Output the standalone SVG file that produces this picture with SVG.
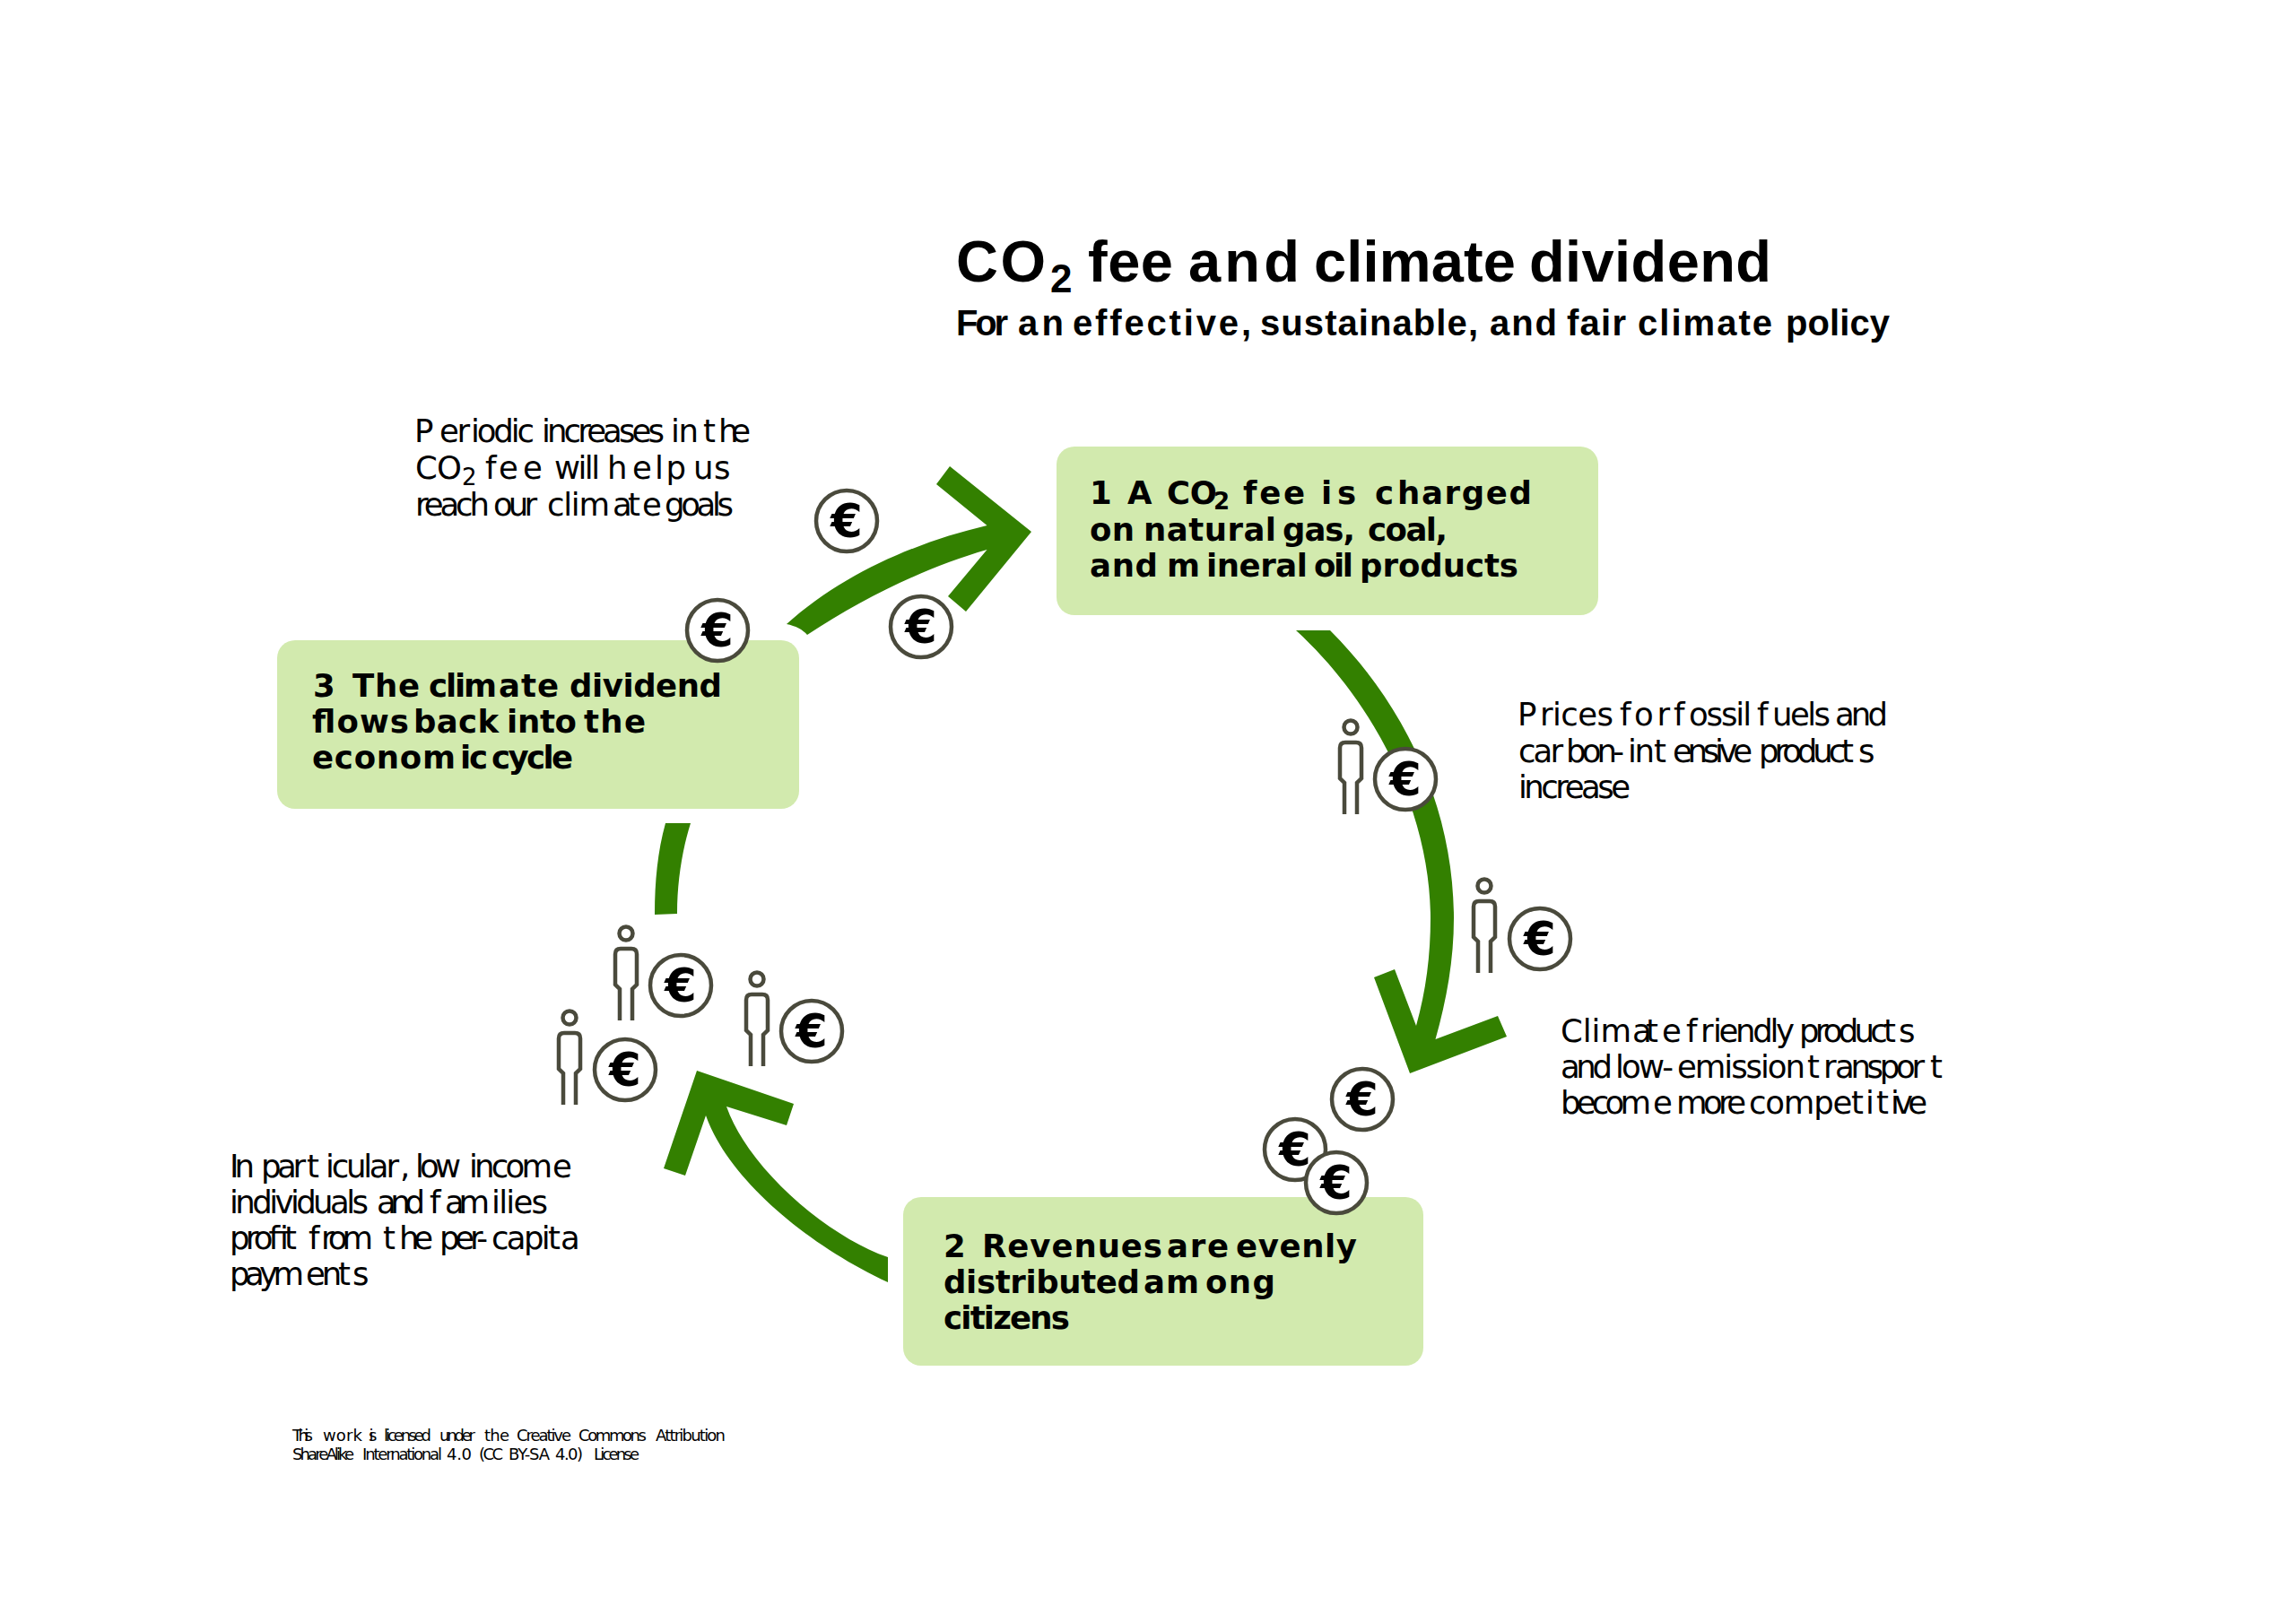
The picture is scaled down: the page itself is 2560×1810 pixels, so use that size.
<svg xmlns="http://www.w3.org/2000/svg" width="2560" height="1810" viewBox="0 0 2560 1810">
<style>
text{fill:#000;white-space:pre}
.t1{font:700 65px "Liberation Sans",Arial,sans-serif}
.t1s{font:700 44px "Liberation Sans",Arial,sans-serif}
.t2{font:700 40px "Liberation Sans",Arial,sans-serif}
.b{font:700 35.5px "DejaVu Sans",Verdana,sans-serif}
.bs{font:700 26px "DejaVu Sans",Verdana,sans-serif}
.n{font:400 35.5px "DejaVu Sans",Verdana,sans-serif}
.ns{font:400 26px "DejaVu Sans",Verdana,sans-serif}
.f{font:400 18px "DejaVu Sans",Verdana,sans-serif}
.box{fill:#d2eaae}
.arrow{fill:#338000}
.coin circle{fill:#fff;stroke:#4a4a3c;stroke-width:4.5}
.coin text{font:700 51px "DejaVu Sans",Verdana,sans-serif;text-anchor:middle}
.person{fill:none;stroke:#4a4a3c;stroke-width:4.5}
</style>
<defs>
<g id="coin" class="coin"><circle r="34"/><text y="18">€</text></g>
<g id="person" class="person"><circle r="7.5"/><path d="M-7 97V62L-12 57V23Q-12 17-6 17H6Q12 17 12 23V57L7 62V97"/></g>
</defs>
<rect width="2560" height="1810" fill="#fff"/>

<g id="connectors">
<path id="arrow-1-2" class="arrow" d="M1445 703H1483C1570 790 1621 905 1621 1024C1621 1070 1613 1115 1600.500 1159L1670 1133L1680 1156L1572 1197L1532 1090L1555 1081L1579 1144C1590 1105 1595 1065 1595 1024C1595 915 1540 790 1445 703Z"/>
<path id="arrow-2-3" class="arrow" d="M990 1402V1430C900 1388 812 1315 787 1244L764 1311L740 1303L777 1194L885 1231L877 1255L810 1234C835 1305 925 1380 990 1402Z"/>
<path id="arrow-3-1" class="arrow" d="M877 696C940 640 1020 605 1100.500 586L1044 540L1059 520L1150 593L1077 682L1057 665L1100.500 613C1035 632 965 665 900 708C895 702 887 698 877 696Z"/>
<path id="arc-3-2" class="arrow" d="M742 918H770C760 950 755 985 755 1019L730 1020C730 985 733 950 742 918Z"/>
</g>

<g id="title" transform="translate(-1 0)">
<text class="t1" y="314"><tspan x="1067" textLength="100">CO</tspan><tspan class="t1s" x="1172" y="326">2</tspan> <tspan x="1214" y="314" textLength="95">fee</tspan> <tspan x="1326" textLength="124">and</tspan> <tspan x="1466" textLength="225">climate</tspan> <tspan x="1706" textLength="270">dividend</tspan></text>
<text class="t2" y="374"><tspan x="1067" textLength="58">For</tspan> <tspan x="1136" textLength="51">an</tspan> <tspan x="1197" textLength="199">effective,</tspan> <tspan x="1406" textLength="243">sustainable,</tspan> <tspan x="1662" textLength="75">and</tspan> <tspan x="1748" textLength="66">fair</tspan> <tspan x="1827" textLength="150">climate</tspan> <tspan x="1992" textLength="116">policy</tspan></text>
</g>

<g id="node-1">
<rect class="box" x="1178" y="498" width="604" height="188" rx="20"/>
<text class="b" y="562"><tspan x="1215">1</tspan> <tspan x="1257">A</tspan> <tspan x="1301" textLength="56">CO</tspan><tspan class="bs" x="1353" y="568">2</tspan> <tspan x="1386" y="562" textLength="69">fee</tspan> <tspan x="1473">i</tspan><tspan x="1491">s</tspan> <tspan x="1533">c</tspan><tspan x="1558" textLength="150">harged</tspan></text>
<text class="b" y="603"><tspan x="1215" textLength="50">on</tspan> <tspan x="1275" textLength="148">natural</tspan> <tspan x="1430" textLength="81">gas,</tspan> <tspan x="1525" textLength="89">coal,</tspan></text>
<text class="b" y="643"><tspan x="1215" textLength="76">and</tspan> <tspan x="1301">m</tspan><tspan x="1345" textLength="113">ineral</tspan> <tspan x="1465" textLength="44">oil</tspan> <tspan x="1516" textLength="177">products</tspan></text>
</g>

<g id="node-2">
<rect class="box" x="1007" y="1335" width="580" height="188" rx="20"/>
<text class="b" y="1402"><tspan x="1052">2</tspan> <tspan x="1095" textLength="201">Revenues</tspan> <tspan x="1301" textLength="69">are</tspan> <tspan x="1378" textLength="135">evenly</tspan></text>
<text class="b" y="1442"><tspan x="1052" textLength="219">distributed</tspan> <tspan x="1275" textLength="62">am</tspan><tspan x="1344" textLength="78">ong</tspan></text>
<text class="b" y="1482"><tspan x="1052" textLength="141">citizens</tspan></text>
</g>

<g id="node-3">
<rect class="box" x="309" y="714" width="582" height="188" rx="20"/>
<text class="b" y="777"><tspan x="349">3</tspan> <tspan x="393" textLength="75">The</tspan> <tspan x="478" textLength="76">clim</tspan><tspan x="556" textLength="67">ate</tspan> <tspan x="635" textLength="170">dividend</tspan></text>
<text class="b" y="817"><tspan x="348" textLength="108">flows</tspan> <tspan x="461" textLength="95">back</tspan> <tspan x="565" textLength="78">into</tspan> <tspan x="651" textLength="69">the</tspan></text>
<text class="b" y="857"><tspan x="348" textLength="160">econom</tspan><tspan x="513" textLength="31">ic</tspan> <tspan x="548" textLength="91">cycle</tspan></text>
</g>

<g id="note-periodic">
<text class="n" y="493"><tspan x="462">P</tspan><tspan x="490" textLength="34">er</tspan><tspan x="525" textLength="71">iodic</tspan> <tspan x="604" textLength="137">increases</tspan> <tspan x="748" textLength="31">in</tspan> <tspan x="784">t</tspan><tspan x="801" textLength="36">he</tspan></text>
<text class="n" y="534"><tspan x="463" textLength="52">CO</tspan><tspan class="ns" x="515" y="541">2</tspan> <tspan x="541" y="534">f</tspan><tspan x="556">e</tspan><tspan x="583">e</tspan> <tspan x="618" textLength="51">will</tspan> <tspan x="677">h</tspan><tspan x="705">e</tspan><tspan x="730" textLength="35">lp</tspan> <tspan x="773">u</tspan><tspan x="796">s</tspan></text>
<text class="n" y="575"><tspan x="463" textLength="83">reach</tspan> <tspan x="550" textLength="49">our</tspan> <tspan x="610" textLength="70">clim</tspan><tspan x="683" textLength="31">at</tspan><tspan x="716">e</tspan> <tspan x="741" textLength="77">goals</tspan></text>
</g>

<g id="note-prices">
<text class="n" y="809"><tspan x="1692">P</tspan><tspan x="1717" textLength="82">rices</tspan> <tspan x="1806">f</tspan><tspan x="1822" textLength="40">or</tspan> <tspan x="1866">f</tspan><tspan x="1883" textLength="70">ossil</tspan> <tspan x="1959">f</tspan><tspan x="1976" textLength="65">uels</tspan> <tspan x="2046" textLength="59">and</tspan></text>
<text class="n" y="850"><tspan x="1693" textLength="50">car</tspan> <tspan x="1746" textLength="65">bon-</tspan> <tspan x="1815" textLength="30">in</tspan><tspan x="1844">t</tspan><tspan x="1865" textLength="89">ensive</tspan> <tspan x="1961" textLength="106">product</tspan><tspan x="2072">s</tspan></text>
<text class="n" y="890"><tspan x="1693" textLength="125">increase</tspan></text>
</g>

<g id="note-climate">
<text class="n" y="1162"><tspan x="1740" textLength="79">Clim</tspan><tspan x="1820" textLength="29">at</tspan><tspan x="1853">e</tspan> <tspan x="1880">f</tspan><tspan x="1896">r</tspan><tspan x="1910" textLength="91">iendly</tspan> <tspan x="2006" textLength="108">product</tspan><tspan x="2117">s</tspan></text>
<text class="n" y="1202"><tspan x="1740" textLength="58">and</tspan> <tspan x="1801" textLength="65">low-</tspan> <tspan x="1870" textLength="143">emission</tspan> <tspan x="2015">t</tspan><tspan x="2033">r</tspan><tspan x="2046" textLength="100">anspor</tspan><tspan x="2152">t</tspan></text>
<text class="n" y="1242"><tspan x="1740" textLength="101">becom</tspan><tspan x="1843">e</tspan> <tspan x="1869" textLength="78">more</tspan> <tspan x="1950" textLength="128">compet</tspan><tspan x="2080" textLength="26">it</tspan><tspan x="2108" textLength="41">ive</tspan></text>
</g>

<g id="note-income">
<text class="n" y="1313"><tspan x="256" textLength="28">In</tspan> <tspan x="291" textLength="50">par</tspan><tspan x="342">t</tspan><tspan x="363" textLength="82">icular</tspan><tspan x="446">,</tspan> <tspan x="463" textLength="51">low</tspan> <tspan x="523" textLength="93">incom</tspan><tspan x="616">e</tspan></text>
<text class="n" y="1353"><tspan x="256" textLength="155">individuals</tspan> <tspan x="420" textLength="54">and</tspan> <tspan x="479">f</tspan><tspan x="496" textLength="50">am</tspan><tspan x="548" textLength="63">ilies</tspan></text>
<text class="n" y="1393"><tspan x="256" textLength="75">profit</tspan> <tspan x="344">f</tspan><tspan x="358" textLength="58">rom</tspan> <tspan x="427">t</tspan><tspan x="445" textLength="38">he</tspan> <tspan x="490" textLength="54">per-</tspan> <tspan x="548" textLength="77">capit</tspan><tspan x="625">a</tspan></text>
<text class="n" y="1433"><tspan x="256" textLength="83">paym</tspan><tspan x="341" textLength="50">ent</tspan><tspan x="393">s</tspan></text>
</g>

<g id="license" transform="translate(-1 1)">
<text class="f" y="1606"><tspan x="327" textLength="23">This</tspan> <tspan x="361" textLength="44">work</tspan> <tspan x="412" textLength="9">is</tspan> <tspan x="429" textLength="53">licensed</tspan> <tspan x="491" textLength="40">under</tspan> <tspan x="541" textLength="28">the</tspan> <tspan x="577" textLength="61">Creative</tspan> <tspan x="646" textLength="76">Commons</tspan> <tspan x="732" textLength="78">Attribution</tspan></text>
<text class="f" y="1627"><tspan x="327" textLength="69">ShareAlike</tspan> <tspan x="405" textLength="89">International</tspan> <tspan x="499" textLength="28">4.0</tspan> <tspan x="535" textLength="27">(CC</tspan> <tspan x="568" textLength="46">BY-SA</tspan> <tspan x="620" textLength="31">4.0)</tspan> <tspan x="663" textLength="51">License</tspan></text>
</g>

<g id="people">
<use href="#person" x="1506" y="811"/>
<use href="#person" x="1655" y="988"/>
<use href="#person" x="698" y="1041"/>
<use href="#person" x="844" y="1092"/>
<use href="#person" x="635" y="1135"/>
</g>
<g id="coins">
<use href="#coin" x="944" y="581"/>
<use href="#coin" x="1027" y="699"/>
<use href="#coin" x="800" y="703"/>
<use href="#coin" x="1567" y="869"/>
<use href="#coin" x="1717" y="1047"/>
<use href="#coin" x="1519" y="1226"/>
<use href="#coin" x="1444" y="1282"/>
<use href="#coin" x="1490" y="1319"/>
<use href="#coin" x="759" y="1099"/>
<use href="#coin" x="905" y="1150"/>
<use href="#coin" x="697" y="1193"/>
</g>
</svg>
